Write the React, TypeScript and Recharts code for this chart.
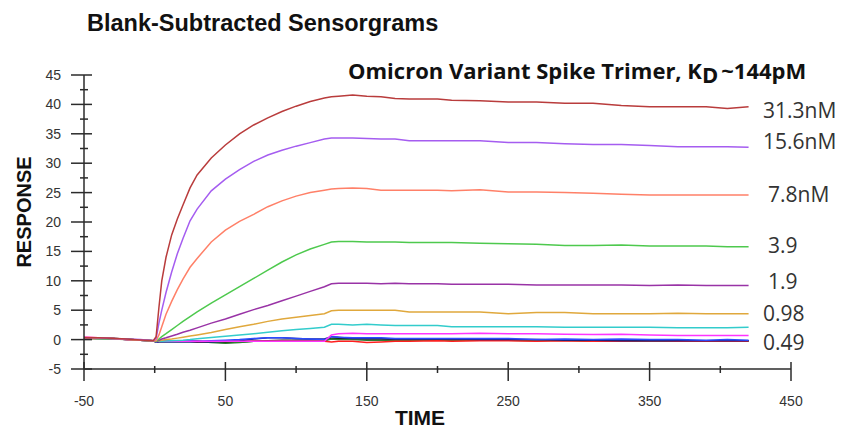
import React from 'react';
import { LineChart, Line, XAxis, YAxis } from 'recharts';

// time (s) for every sample; baseline | association | dissociation
const TIME = [
    -50, -40, -30, -20, -10, -1,
    1, 3, 5, 8, 12, 16, 20, 25, 30,
    40, 50, 60, 70, 80, 90, 100, 110, 120, 125,
    130, 140, 150, 160, 170, 180,
    200, 210, 230, 250, 270, 290, 310, 330, 350, 370, 390, 405, 420,
];

const R_31_3 = [
    0.3, 0.3, 0.25, 0.1, -0.05, -0.2,
    0.5, 5.5, 10.0, 14.0, 17.8, 20.5, 22.9, 25.8, 28.0,
    30.9, 33.1, 35.0, 36.5, 37.7, 38.8, 39.7, 40.5, 41.1, 41.3,
    41.4, 41.6, 41.4, 41.3, 41.0, 40.9,
    40.9, 40.7, 40.6, 40.4, 40.4, 40.2, 40.2, 39.8, 39.6, 39.6, 39.6, 39.3, 39.6,
];
const R_15_6 = [
    0.3, 0.3, 0.2, 0.1, 0.0, -0.2,
    0.2, 2.8, 5.0, 8.0, 11.5, 14.6, 17.2, 20.2, 22.2,
    25.3, 27.3, 28.9, 30.3, 31.4, 32.2, 32.9, 33.5, 34.1, 34.3,
    34.3, 34.3, 34.2, 34.1, 34.1, 33.8,
    33.8, 33.8, 33.8, 33.5, 33.5, 33.3, 33.2, 33.2, 33.0, 32.8, 32.8, 32.8, 32.7,
];
const R_7_8 = [
    0.2, 0.3, 0.2, 0.0, -0.1, -0.2,
    -0.2, 0.8, 2.2, 4.3, 6.5, 8.5, 10.3, 12.3, 13.8,
    16.6, 18.6, 20.1, 21.3, 22.6, 23.6, 24.4, 25.0, 25.4, 25.6,
    25.7, 25.8, 25.7, 25.4, 25.4, 25.4,
    25.4, 25.3, 25.5, 25.1, 25.1, 25.0, 24.9, 24.7, 24.6, 24.6, 24.6, 24.6, 24.6,
];
const R_3_9 = [
    0.3, 0.2, 0.2, 0.1, -0.1, -0.2,
    -0.3, 0.1, 0.5, 1.0, 1.7, 2.4, 3.1, 3.9, 4.7,
    6.2, 7.6, 9.0, 10.4, 11.8, 13.2, 14.4, 15.4, 16.2, 16.6,
    16.7, 16.7, 16.6, 16.6, 16.6, 16.5,
    16.5, 16.5, 16.4, 16.3, 16.2, 16.0, 16.0, 16.1, 15.9, 15.9, 15.9, 15.8, 15.8,
];
const R_1_9 = [
    0.3, 0.3, 0.2, 0.0, -0.1, -0.2,
    -0.3, -0.1, 0.1, 0.3, 0.6, 0.9, 1.25, 1.6, 2.0,
    2.8, 3.5, 4.3, 5.1, 5.8, 6.6, 7.4, 8.2, 9.0, 9.5,
    9.6, 9.6, 9.6, 9.5, 9.6, 9.5,
    9.5, 9.4, 9.4, 9.4, 9.3, 9.3, 9.3, 9.3, 9.2, 9.3, 9.2, 9.2, 9.2,
];
const R_0_98 = [
    0.2, 0.2, 0.2, 0.0, -0.1, -0.2,
    -0.3, -0.2, -0.1, 0.0, 0.1, 0.25, 0.4, 0.6, 0.8,
    1.2, 1.7, 2.2, 2.6, 3.1, 3.5, 3.8, 4.1, 4.4, 4.9,
    5.0, 5.0, 5.0, 5.0, 5.0, 4.7,
    4.7, 4.7, 4.7, 4.4, 4.6, 4.6, 4.4, 4.4, 4.4, 4.5, 4.4, 4.4, 4.4,
];
const R_0_49 = [
    0.3, 0.2, 0.2, 0.1, -0.1, -0.2,
    -0.3, -0.3, -0.3, -0.25, -0.2, -0.15, -0.1, 0.0, 0.15,
    0.35, 0.55, 0.8, 1.0, 1.25, 1.5, 1.7, 1.9, 2.1, 2.6,
    2.6, 2.5, 2.6, 2.5, 2.4, 2.4,
    2.4, 2.2, 2.2, 2.2, 2.2, 2.1, 2.1, 2.1, 2.1, 2.0, 2.0, 2.0, 2.1,
];
const R_0_24 = [
    0.4, 0.3, 0.2, 0.0, -0.1, -0.2,
    -0.3, -0.3, -0.3, -0.3, -0.3, -0.3, -0.3, -0.3, -0.3,
    -0.3, -0.3, -0.3, -0.3, -0.3, -0.3, -0.3, -0.3, -0.3, 0.8,
    1.0, 1.1, 1.0, 1.0, 1.0, 1.0,
    1.0, 1.0, 1.1, 1.0, 1.0, 0.9, 0.85, 0.9, 0.8, 0.7, 0.7, 0.7, 0.7,
];
const R_0_12 = [
    0.3, 0.2, 0.2, 0.0, -0.1, -0.2,
    -0.4, -0.3, -0.3, -0.3, -0.3, -0.3, -0.3, -0.2, -0.3,
    -0.2, -0.1, 0.0, 0.2, 0.3, 0.3, 0.2, 0.1, 0.0, 0.5,
    0.4, 0.3, 0.3, 0.3, 0.2, 0.2,
    0.2, 0.2, 0.2, 0.2, 0.0, 0.1, 0.0, 0.1, 0.0, 0.0, -0.1, 0.0, -0.1,
];
const R_0_061 = [
    0.3, 0.3, 0.2, 0.1, -0.1, -0.2,
    -0.4, -0.4, -0.4, -0.4, -0.4, -0.4, -0.4, -0.4, -0.4,
    -0.4, -0.3, -0.2, 0.1, 0.3, 0.3, 0.2, 0.1, 0.1, 0.5,
    0.4, 0.2, 0.2, 0.2, 0.1, 0.1,
    0.1, 0.1, 0.0, 0.0, 0.0, -0.1, -0.1, -0.2, -0.2, -0.2, -0.2, -0.2, -0.2,
];
const R_0_031 = [
    0.4, 0.3, 0.2, 0.1, -0.1, -0.2,
    -0.4, -0.3, -0.3, -0.3, -0.3, -0.3, -0.3, -0.3, -0.45,
    -0.3, -0.3, -0.3, -0.3, -0.3, -0.3, -0.3, -0.3, -0.3, -0.4,
    -0.3, -0.3, -0.5, -0.4, -0.3, -0.3,
    -0.2, -0.3, -0.2, -0.2, -0.3, -0.2, -0.3, -0.3, -0.2, -0.3, -0.3, -0.3, -0.3,
];
const R_0_015 = [
    0.2, 0.2, 0.1, 0.0, -0.1, -0.2,
    -0.4, -0.3, -0.3, -0.3, -0.3, -0.3, -0.3, -0.3, -0.3,
    -0.5, -0.6, -0.5, -0.3, -0.3, -0.2, -0.2, -0.2, -0.2, 0.1,
    0.0, 0.0, -0.1, -0.1, -0.1, -0.1,
    -0.1, -0.1, -0.1, -0.1, -0.2, -0.1, -0.3, -0.3, -0.3, -0.3, -0.3, -0.3, -0.3,
];
const R_0_0076 = [
    0.2, 0.2, 0.2, 0.0, -0.1, -0.2,
    -0.4, -0.3, -0.3, -0.3, -0.3, -0.3, -0.3, -0.3, -0.3,
    -0.4, -0.5, -0.4, -0.3, -0.2, -0.1, -0.1, -0.1, -0.1, 0.2,
    0.2, 0.1, 0.1, 0.1, 0.0, 0.0,
    0.0, 0.0, -0.1, -0.1, -0.1, -0.1, -0.2, -0.2, -0.2, -0.2, -0.2, -0.2, -0.2,
];

const X_TICKS = [-50, 0, 50, 100, 150, 200, 250, 300, 350, 400, 450];
const Y_TICKS = [-5, -2.5, 0, 2.5, 5, 7.5, 10, 12.5, 15, 17.5, 20, 22.5, 25, 27.5, 30, 32.5, 35, 37.5, 40, 42.5, 45];

const SERIES = [
    { key: 'c0_0076', values: R_0_0076, color: '#111111' },
    { key: 'c0_015', values: R_0_015, color: '#2e7d32' },
    { key: 'c0_031', values: R_0_031, color: '#ff2020' },
    { key: 'c0_061', values: R_0_061, color: '#1a237e' },
    { key: 'c0_12', values: R_0_12, color: '#2d4bff' },
    { key: 'c0_24', values: R_0_24, color: '#ff33ff' },
    { key: 'c0_49', values: R_0_49, color: '#33cccc' },
    { key: 'c0_98', values: R_0_98, color: '#e0a83c' },
    { key: 'c1_9', values: R_1_9, color: '#9933a6' },
    { key: 'c3_9', values: R_3_9, color: '#4ec94e' },
    { key: 'c7_8', values: R_7_8, color: '#ff8068' },
    { key: 'c15_6', values: R_15_6, color: '#a55df0' },
    { key: 'c31_3', values: R_31_3, color: '#b93c3c' },
];

// label text, left x, baseline y
const CURVE_LABELS: [string, number, number][] = [
    ['31.3nM', 763, 118],
    ['15.6nM', 763, 149],
    ['7.8nM', 768, 202],
    ['3.9', 768, 253],
    ['1.9', 768, 289],
    ['0.98', 763, 321],
    ['0.49', 763, 350],
];

const rows = TIME.map((t, i) => {
    const row: Record<string, number> = { t };
    SERIES.forEach(s => { row[s.key] = s.values[i]; });
    return row;
});

const AXIS = '#2b2b2b';
const TICK_FONT = '"Liberation Sans", Arial, sans-serif';

const XTick = (props: any) => {
    const { x, y, payload } = props;
    const major = (payload.value + 50) % 100 === 0;
    return (
        <g>
            <line x1={x} x2={x} y1={major ? y - 7 : y - 3} y2={major ? y + 12 : y + 4} stroke={AXIS} strokeWidth={1.5} />
            {major && (
                <text x={x} y={y + 37} textAnchor="middle" fontSize={14} fontFamily={TICK_FONT} fill="#333">
                    {payload.value}
                </text>
            )}
        </g>
    );
};

const YTick = (props: any) => {
    const { x, y, payload } = props;
    const major = payload.value % 5 === 0;
    return (
        <g>
            <line x1={major ? x - 13 : x - 4} x2={major ? x + 8 : x + 4} y1={y} y2={y} stroke={AXIS} strokeWidth={1.5} />
            {major && (
                <text x={x - 23} y={y + 5} textAnchor="end" fontSize={14} fontFamily={TICK_FONT} fill="#333">
                    {payload.value}
                </text>
            )}
        </g>
    );
};

const App: React.FC = () => {
    return (
        <div style={{ position: 'absolute', left: 0, top: 0, width: 842, height: 429, background: '#fff' }}>
            <LineChart width={842} height={429} data={rows} margin={{ top: 75, right: 51, bottom: 0, left: 0 }}>
                <XAxis
                    dataKey="t"
                    type="number"
                    domain={[-50, 450]}
                    ticks={X_TICKS}
                    interval={0}
                    tickSize={0}
                    tickMargin={0}
                    height={60}
                    tickLine={false}
                    axisLine={{ stroke: AXIS, strokeWidth: 1.5 }}
                    tick={XTick}
                />
                <YAxis
                    type="number"
                    domain={[-5, 45]}
                    ticks={Y_TICKS}
                    interval={0}
                    tickSize={0}
                    tickMargin={0}
                    width={84}
                    tickLine={false}
                    axisLine={{ stroke: AXIS, strokeWidth: 1.5 }}
                    tick={YTick}
                />
                {SERIES.map(s => (
                    <Line
                        key={s.key}
                        dataKey={s.key}
                        type="linear"
                        stroke={s.color}
                        strokeWidth={1.5}
                        dot={false}
                        isAnimationActive={false}
                    />
                ))}
            </LineChart>
            <svg width={842} height={429} style={{ position: 'absolute', left: 0, top: 0, pointerEvents: 'none' }}>
                <text x={87} y={31} fontSize={23.5} fontWeight={700} fontFamily={TICK_FONT} fill="#111">
                    Blank-Subtracted Sensorgrams
                </text>
                <text x={348} y={79} fontSize={22} fontWeight={700} fontFamily='"Open Sans", sans-serif' fill="#111">
                    Omicron Variant Spike Trimer, K
                    <tspan dy={4}>D</tspan>
                    <tspan dy={-4} dx={3}>~144pM</tspan>
                </text>
                {CURVE_LABELS.map(([label, x, y]) => (
                    <text key={label} x={x} y={y} fontSize={21} fontFamily='"Open Sans", sans-serif' fill="#333">
                        {label}
                    </text>
                ))}
                <text
                    x={24}
                    y={212}
                    transform="rotate(-90, 24, 212)"
                    textAnchor="middle"
                    dominantBaseline="central"
                    fontSize={20}
                    fontWeight={700}
                    fontFamily={TICK_FONT}
                    fill="#111"
                >
                    RESPONSE
                </text>
                <text x={420} y={425} textAnchor="middle" fontSize={21} fontWeight={700} fontFamily={TICK_FONT} fill="#111">
                    TIME
                </text>
            </svg>
        </div>
    );
};

export default App;
